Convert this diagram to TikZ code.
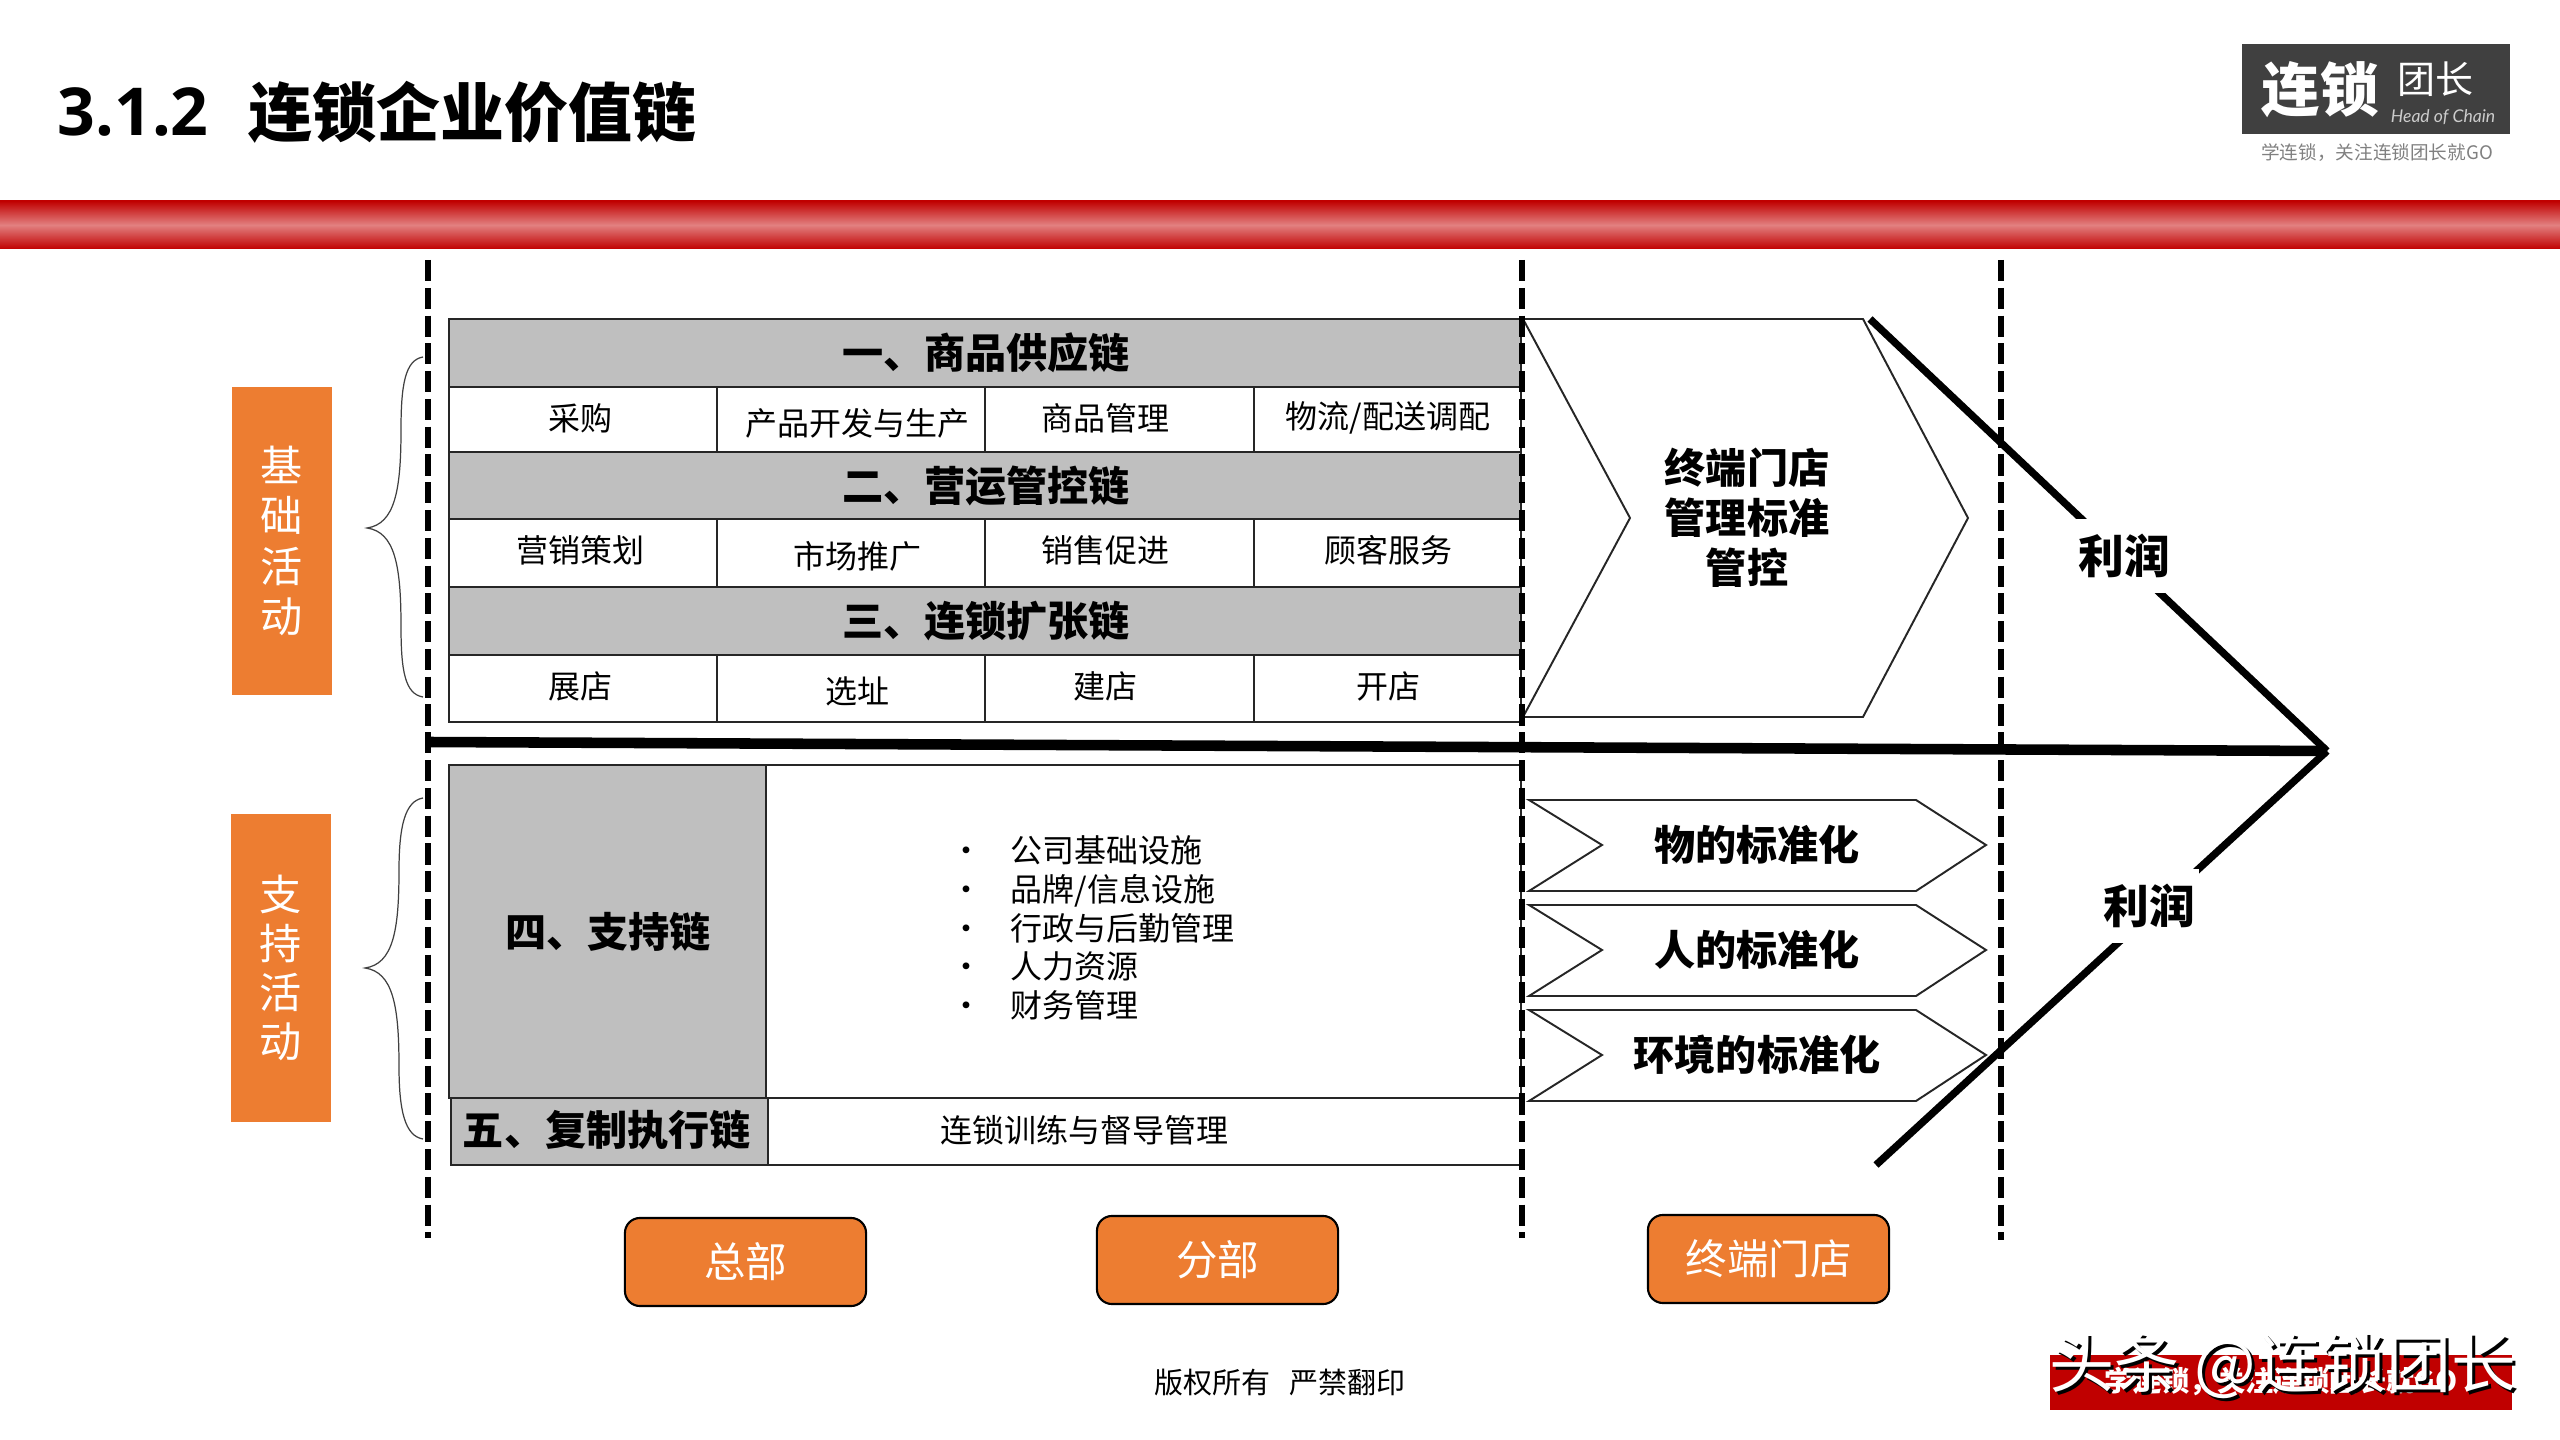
\documentclass[tikz,border=0pt]{standalone}
\usepackage{fontspec}
\setmainfont{Noto Sans CJK SC}
\newfontfamily\titlefont{Open Sans}
\newfontfamily\logofont{Lato}
\usetikzlibrary{positioning}
\definecolor{chainorange}{HTML}{ED7D31}
\definecolor{chaingray}{HTML}{BFBFBF}
\definecolor{chainred}{HTML}{C00000}
\definecolor{chainpale}{HTML}{E28080}
\newcommand{\fs}[1]{\fontsize{#1}{#1}\selectfont}
\tikzset{every node/.style={inner sep=0pt}, % Text nodes sit exactly at their coordinates
      headtext/.style={font=\fs{11.7}\bfseries}, % Bold labels of the chains
      celltext/.style={font=\fs{9.1}},
      sidebox/.style={ % Orange boxes at the left
      fill=chainorange,
      text=white,
      minimum width=1cm,
      minimum height=3.08cm,
      align=center,
      font=\fs{12}},
      basebox/.style={ % Orange buttons under the table
      draw=black,
      line width=0.6pt,
      rounded corners=0.15cm,
      fill=chainorange,
      text=white,
      minimum width=2.41cm,
      minimum height=0.88cm,
      font=\fs{11.8}},
      tablebar/.style={draw=black!85,line width=0.75pt,fill=chaingray},
      tableline/.style={draw=black!85,line width=0.6pt},
      chevron/.style={draw=black!85,line width=0.55pt},
      bracket/.style={draw=black!75,line width=0.35pt},
      splitline/.style={draw=black,line width=1.7pt,dash pattern=on 6pt off 1.9pt},
      profitline/.style={draw=black,line width=2.1pt},
      profittext/.style={fill=white,minimum width=1cm,minimum height=0.74cm,font=\fs{13}\bfseries}}

\begin{document}
\begin{tikzpicture}[x=0.01cm,y=-0.01cm]
      \useasboundingbox (0,0) rectangle (2560,1440);
      % title and logo
      \node[anchor=west,font=\titlefont\fs{18.8}\bfseries] (number) at (57,112) {3.1.2};
      \node[anchor=west,font=\fs{18.2}\bfseries] (title) at (248,112) {连锁企业价值链};
      \fill[black!75] (2242,44) rectangle (2510,134);
      \node[text=white,font=\fs{16.6}\bfseries] (logomain) at (2320,90) {连锁};
      \node[text=white,font=\fs{10.8}] (logohead) at (2435,79) {团长};
      \node[text=black!20,font=\logofont\itshape\fs{5}] (logoeng) at (2443,117) {Head of Chain};
      \node[text=black!50,font=\fs{5.3}] (logosub) at (2377,153) {学连锁，关注连锁团长就GO};
      \shade[top color=chainred,bottom color=chainred,middle color=chainpale] (0,201) rectangle (2560,249);

      % left labels and brackets
      \node[sidebox] (basic) at (282,541) {基\\[0.08cm]础\\[0.08cm]活\\[0.08cm]动};
      \node[sidebox,minimum height=3.08cm] (support) at (281,968) {支\\[0.07cm]持\\[0.07cm]活\\[0.07cm]动};
      \draw[bracket] (423,357) .. controls (405,360) and (401,385) .. (401,430) .. controls (401,490) and (395,524) .. (367,528) .. controls (395,532) and (401,566) .. (401,626) .. controls (401,671) and (405,694) .. (423,697);
      \draw[bracket] (423,798) .. controls (405,801) and (399,826) .. (399,871) .. controls (399,931) and (393,964) .. (365,968) .. controls (393,972) and (399,1006) .. (399,1066) .. controls (399,1111) and (405,1136) .. (423,1139);

      % upper table
      \draw[tablebar] (449,319) rectangle (1521,387);
      \draw[tablebar] (449,452) rectangle (1521,519);
      \draw[tablebar] (449,587) rectangle (1521,655);
      \draw[tableline] (449,387) rectangle (1521,452);
      \draw[tableline] (449,519) rectangle (1521,587);
      \draw[tableline] (449,655) rectangle (1521,722);
      \draw[tableline] (717,387) -- (717,452) (985,387) -- (985,452) (1254,387) -- (1254,452);
      \draw[tableline] (717,519) -- (717,587) (985,519) -- (985,587) (1254,519) -- (1254,587);
      \draw[tableline] (717,655) -- (717,722) (985,655) -- (985,722) (1254,655) -- (1254,722);
      \node[headtext] (chain1) at (986,353) {一、商品供应链};
      \node[headtext] (chain2) at (986,486) {二、营运管控链};
      \node[headtext] (chain3) at (986,621) {三、连锁扩张链};
      \node[celltext] (c11) at (580,418) {采购};
      \node[celltext] (c12) at (857,423) {产品开发与生产};
      \node[celltext] (c13) at (1105,418) {商品管理};
      \node[celltext] (c14) at (1388,418) {物流/配送调配};
      \node[celltext] (c21) at (580,550) {营销策划};
      \node[celltext] (c22) at (857,556) {市场推广};
      \node[celltext] (c23) at (1105,550) {销售促进};
      \node[celltext] (c24) at (1388,550) {顾客服务};
      \node[celltext] (c31) at (580,686) {展店};
      \node[celltext] (c32) at (857,691) {选址};
      \node[celltext] (c33) at (1105,686) {建店};
      \node[celltext] (c34) at (1388,686) {开店};

      % lower table
      \draw[tablebar] (449,765) rectangle (766,1098);
      \draw[tablebar] (451,1098) rectangle (768,1165);
      \draw[tableline] (766,765) -- (1521,765) -- (1521,1098) -- (766,1098);
      \draw[tableline] (768,1165) -- (1521,1165);
      \node[headtext] (chain4) at (608,932) {四、支持链};
      \node[headtext] (chain5) at (607,1130) {五、复制执行链};
      \node[anchor=west,align=left,font=\fontsize{9.1}{11}\selectfont] (tasks) at (950,928) {%
      \makebox[0.6cm][l]{•}公司基础设施\\
      \makebox[0.6cm][l]{•}品牌/信息设施\\
      \makebox[0.6cm][l]{•}行政与后勤管理\\
      \makebox[0.6cm][l]{•}人力资源\\
      \makebox[0.6cm][l]{•}财务管理};
      \node[celltext] (train) at (1084,1130) {连锁训练与督导管理};

      % chevrons of the store column
      \draw[chevron] (1523,319) -- (1863,319) -- (1968,518) -- (1863,717) -- (1523,717) -- (1630,518) -- cycle;
      \node[align=center,font=\fontsize{11.7}{14.2}\selectfont\bfseries] (control) at (1747,518) {终端门店\\管理标准\\管控};
      \draw[chevron] (1529,800) -- (1916,800) -- (1986,845) -- (1916,891) -- (1529,891) -- (1602,845) -- cycle;
      \draw[chevron] (1529,905) -- (1916,905) -- (1986,950) -- (1916,996) -- (1529,996) -- (1602,950) -- cycle;
      \draw[chevron] (1529,1010) -- (1916,1010) -- (1986,1055) -- (1916,1101) -- (1529,1101) -- (1602,1055) -- cycle;
      \node[headtext] (thing) at (1757,845) {物的标准化};
      \node[headtext] (people) at (1757,950) {人的标准化};
      \node[headtext] (place) at (1757,1055) {环境的标准化};

      % dashed column borders
      \draw[splitline] (428,260) -- (428,1238);
      \draw[splitline] (1522,260) -- (1522,1238);
      \draw[splitline] (2001,260) -- (2001,1240);

      % arrow of the value chain
      \coordinate (tip) at (2327,751);
      \coordinate (axis) at (428,742);
      \coordinate (upper) at (1870,319);
      \coordinate (lower) at (1876,1165);
      \draw[draw=black,line width=3pt] (axis) -- (tip);
      \draw[profitline] (upper) -- (tip);
      \draw[profitline] (lower) -- (tip);
      \node[profittext] (profit1) at (2124,556) {利润};
      \node[profittext] (profit2) at (2149,906) {利润};

      % base buttons and footer
      \node[basebox] (head) at (745.5,1262) {总部};
      \node[basebox] (branch) at (1217.5,1260) {分部};
      \node[basebox] (store) at (1768.5,1259) {终端门店};
      \node[font=\fs{8.25}] (rights) at (1280,1383) {版权所有\hspace{0.19cm}严禁翻印};
      \fill[chainred] (2050,1355) rectangle (2512,1410);
      \node[text=white,font=\fs{8}\bfseries] (slogan) at (2281,1382) {学连锁，关注连锁团长就GO};
      \node[text=black,font=\fs{18.5}] (marks) at (2286,1369) {头条 @连锁团长};
      \node[text=white,font=\fs{18.5},above left=0.03cm and 0.03cm of marks.center,anchor=center] (mark) {头条 @连锁团长};
\end{tikzpicture}
\end{document}
